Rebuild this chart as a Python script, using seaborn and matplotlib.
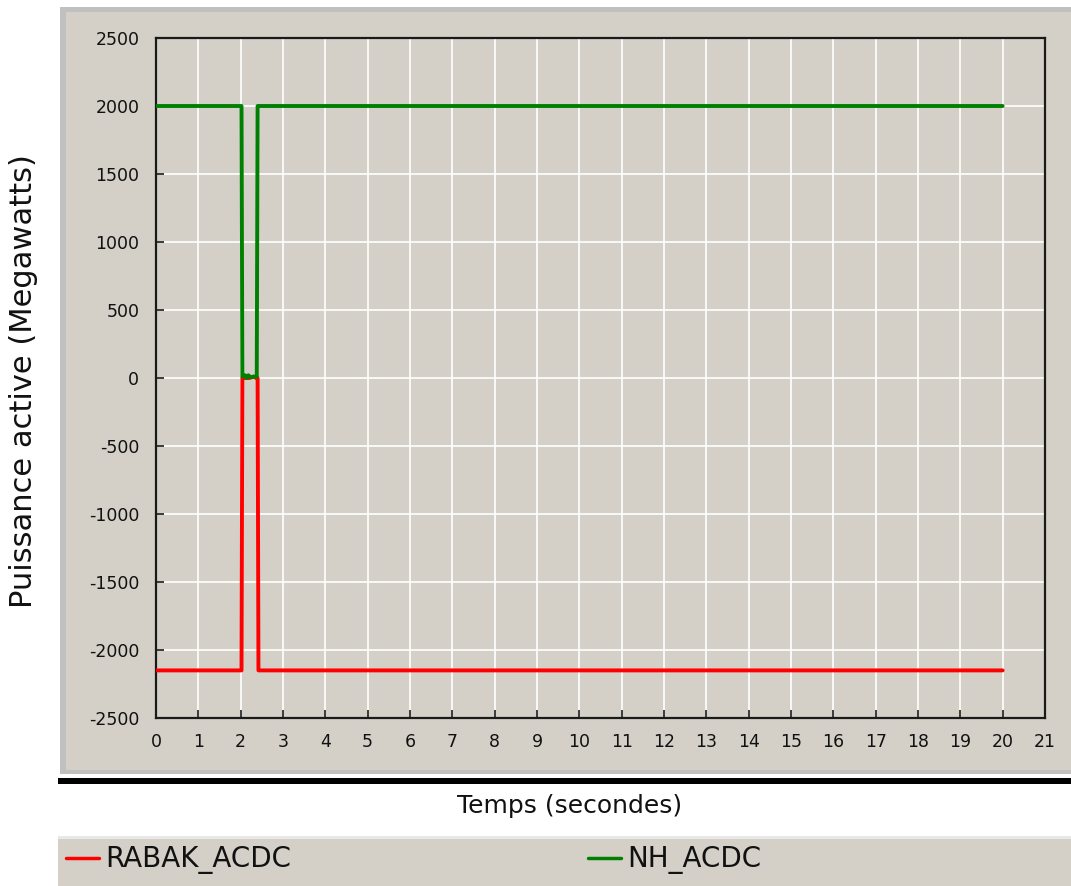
import numpy as np
import pandas as pd
import matplotlib
matplotlib.use("Agg")
import matplotlib.pyplot as plt
from matplotlib.patches import Rectangle
from matplotlib.lines import Line2D
import seaborn as sns

# ---- data ----
time_rabak = [0, 2.02, 2.04, 2.20, 2.30, 2.38, 2.40, 2.42, 20]
rabak_acdc = [-2150, -2150, 0, 0, 10, 0, 0, -2150, -2150]

time_nh = [0, 2.02, 2.04, 2.10, 2.14, 2.18, 2.24, 2.30, 2.38, 2.40, 2.42, 20]
nh_acdc = [2000, 2000, 10, 20, 0, 20, 5, 10, 10, 2000, 2000, 2000]

x_ticks = list(range(0, 22))
y_ticks = list(range(-2500, 2501, 500))

series_names = ["RABAK_ACDC", "NH_ACDC"]
series_colors = ["#ff0000", "#008000"]

W, H = 1071, 886
sns.set_theme(style="white")
plt.rcParams["font.family"] = ["DejaVu Sans"]

fig = plt.figure(figsize=(W / 100, H / 100), dpi=100)
fig.patch.set_facecolor("white")

def px_rect(x0, y0, x1, y1, color, z=-10):
    r = Rectangle((x0 / W, 1 - y1 / H), (x1 - x0) / W, (y1 - y0) / H,
                  transform=fig.transFigure, facecolor=color, edgecolor="none",
                  zorder=z)
    fig.patches.append(r)

panel = "#d4d0c8"
# main grey panel with bevel
px_rect(60, 7, 1071, 774, "#c0c0c0", -12)
px_rect(66, 12, 1071, 770, panel, -11)
# thick black bar under panel
px_rect(58, 778, 1071, 784, "#000000", -11)
# legend band
px_rect(58, 836, 1071, 886, "#e8e8e8", -12)
px_rect(58, 839, 1071, 886, panel, -11)

ax = fig.add_axes([156 / W, 1 - 718 / H, (1045 - 156) / W, (718 - 38) / H])
ax.set_facecolor(panel)

df_r = pd.DataFrame({"t": time_rabak, "p": rabak_acdc})
df_n = pd.DataFrame({"t": time_nh, "p": nh_acdc})
sns.lineplot(data=df_r, x="t", y="p", ax=ax, color=series_colors[0], lw=2.8,
             estimator=None, sort=False, zorder=3)
sns.lineplot(data=df_n, x="t", y="p", ax=ax, color=series_colors[1], lw=2.8,
             estimator=None, sort=False, zorder=4)

ax.set_xlim(0, 21)
ax.set_ylim(-2500, 2500)
ax.set_xticks(x_ticks)
ax.set_yticks(y_ticks)
ax.set_xticklabels([str(v) for v in x_ticks])
ax.set_yticklabels([str(v) for v in y_ticks])
ax.grid(True, color="white", lw=1.2, zorder=0)
ax.set_axisbelow(True)
for s in ax.spines.values():
    s.set_color("#1a1a1a")
    s.set_linewidth(1.6)
ax.tick_params(axis="both", direction="in", length=6, width=1.2, color="#1a1a1a",
               labelsize=12.5, labelcolor="#111111")
ax.tick_params(axis="y", pad=12, left=True)
ax.tick_params(axis="x", pad=11, bottom=True)
ax.set_xlabel("")
ax.set_ylabel("")

fig.text(570 / W, 1 - 806 / H, "Temps (secondes)", ha="center", va="center",
         fontsize=18, color="#111111")
fig.text(24 / W, 1 - 381 / H, "Puissance active (Megawatts)", ha="center",
         va="center", rotation=90, fontsize=22, color="#111111")

for name, col, x0 in zip(series_names, series_colors, [66, 588]):
    h = Line2D([], [], color=col, lw=2.5)
    fig.legend([h], [name], loc="center left",
               bbox_to_anchor=(x0 / W, 1 - 860 / H), frameon=False,
               fontsize=20, handlelength=1.2, handletextpad=0.2,
               borderpad=0, borderaxespad=0, labelcolor="#111111")

fig.savefig("out.png", dpi=100, facecolor=fig.get_facecolor())
